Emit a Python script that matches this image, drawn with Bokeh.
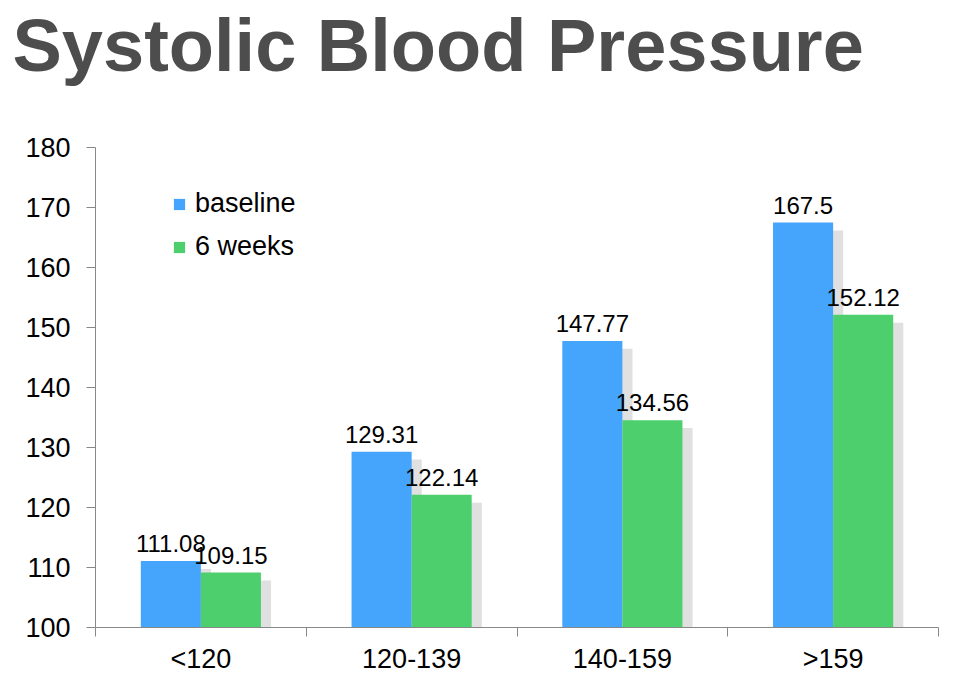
from bokeh.plotting import figure
from bokeh.models import (Range1d, FixedTicker, ColumnDataSource, LabelSet,
                          Legend, LegendItem, Title)
from bokeh.core.properties import value
from bokeh.embed import file_html
from bokeh.resources import INLINE

categories = ["<120", "120-139", "140-159", ">159"]
baseline = [111.08, 129.31, 147.77, 167.5]
weeks6 = [109.15, 122.14, 134.56, 152.12]
y_ticks = [100, 110, 120, 130, 140, 150, 160, 170, 180]

BLUE = "#45a4fb"
GREEN = "#4ecf6d"
SHADOW = "#e0e0e0"
FONT = "Liberation Sans"

W, H = 951, 681
p = figure(width=W, height=H, output_backend="svg", toolbar_location=None,
           x_range=Range1d(0, len(categories)), y_range=Range1d(100, 180),
           min_border_left=95, min_border_right=13, min_border_top=147,
           min_border_bottom=54)
p.outline_line_color = None
p.xgrid.visible = False
p.ygrid.visible = False
p.background_fill_color = "white"
p.border_fill_color = "white"

# default title left empty; a small spacer title sits next to the frame,
# the real title is stacked above it at the top of the canvas
p.title.text = ""
p.title.standoff = 0
spacer = Title(text=" ", text_font_size="1px", standoff=56)
p.add_layout(spacer, "above")
main_title = Title(text="Systolic Blood Pressure", text_font=FONT, text_font_size="74px",
                   text_font_style="bold", text_color="#4d4d4d", align="left",
                   vertical_align="top", offset=-83, standoff=0)
p.add_layout(main_title, "above")

centers = [i + 0.5 for i in range(len(categories))]
bw = 0.285
half = bw / 2
sx = 0.048   # shadow horizontal offset (category units)
sy = 1.33    # shadow vertical offset (value units)

src = ColumnDataSource(dict(
    xb=[c - half for c in centers],
    xg=[c + half for c in centers],
    xbs=[c - half + sx for c in centers],
    xgs=[c + half + sx for c in centers],
    b=baseline, g=weeks6,
    bs=[v - sy for v in baseline], gs=[v - sy for v in weeks6],
    bl=[f"{v:g}" for v in baseline], gl=[f"{v:g}" for v in weeks6],
))

p.vbar(x="xbs", top="bs", bottom=100, width=bw, source=src, fill_color=SHADOW, line_color=None)
p.vbar(x="xgs", top="gs", bottom=100, width=bw, source=src, fill_color=SHADOW, line_color=None)
rb = p.vbar(x="xb", top="b", bottom=100, width=bw, source=src, fill_color=BLUE, line_color=None)
rg = p.vbar(x="xg", top="g", bottom=100, width=bw, source=src, fill_color=GREEN, line_color=None)

for xcol, ycol, tcol in [("xb", "b", "bl"), ("xg", "g", "gl")]:
    p.add_layout(LabelSet(x=xcol, y=ycol, text=tcol, source=src, text_align="center",
                          text_baseline="alphabetic", y_offset=9,
                          text_font=value(FONT), text_font_size=value("24px"),
                          text_color="black"))

# axes
AX = "#888888"
p.yaxis.ticker = FixedTicker(ticks=y_ticks)
p.yaxis.axis_line_color = AX
p.yaxis.major_tick_line_color = AX
p.yaxis.major_tick_out = 9
p.yaxis.major_tick_in = 0
p.yaxis.minor_tick_line_color = None
p.yaxis.major_label_text_font = FONT
p.yaxis.major_label_text_font_size = "27px"
p.yaxis.major_label_text_color = "black"
p.yaxis.major_label_standoff = 16

p.xaxis.ticker = FixedTicker(ticks=centers, minor_ticks=list(range(len(categories) + 1)))
p.xaxis.major_label_overrides = {c: name for c, name in zip(centers, categories)}
p.xaxis.axis_line_color = AX
p.xaxis.major_tick_line_color = None
p.xaxis.minor_tick_line_color = AX
p.xaxis.minor_tick_out = 9
p.xaxis.minor_tick_in = 0
p.xaxis.major_tick_out = 9
p.xaxis.major_tick_in = 0
p.xaxis.major_label_text_font = FONT
p.xaxis.major_label_text_font_size = "27px"
p.xaxis.major_label_text_color = "black"
p.xaxis.major_label_standoff = 7

legend = Legend(items=[LegendItem(label="baseline", renderers=[rb]),
                       LegendItem(label="6 weeks", renderers=[rg])],
                location=(77, 365), orientation="vertical",
                border_line_color=None, background_fill_alpha=0,
                padding=0, margin=0, spacing=12,
                glyph_width=14, glyph_height=14, label_standoff=9,
                label_text_font=FONT, label_text_font_size="27px",
                label_text_color="black")
p.add_layout(legend)

open("out.html", "w").write(file_html(p, INLINE))
